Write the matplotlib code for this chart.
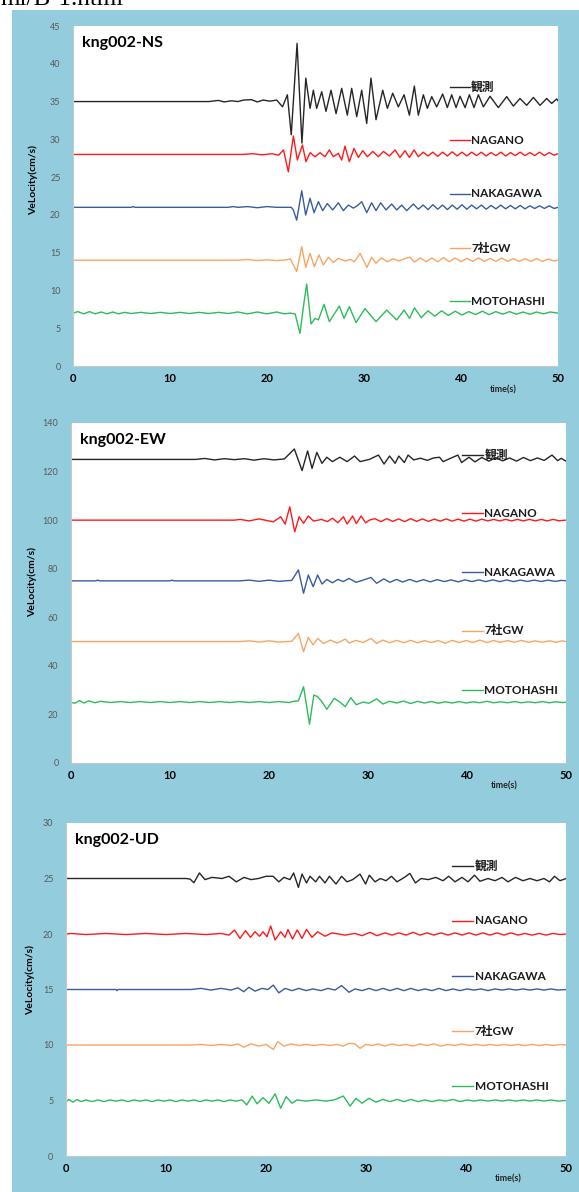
import numpy as np
import matplotlib
matplotlib.use("Agg")
import matplotlib.pyplot as plt
from matplotlib.patches import Rectangle

plt.rcParams['font.family'] = ['Lato', 'Noto Sans CJK JP', 'DejaVu Sans']

LABELS = ["観測", "NAGANO", "NAKAGAWA", "7社GW", "MOTOHASHI"]
COLORS = ["#262626", "#ff1a1a", "#3a5c9e", "#f7a565", "#2dbb5c"]

# ---- kng002-NS : (time s, velocity cm/s) picked from the record ----
NS_OBS = [(0, 35), (14.0, 35), (15.0, 35.15), (15.6, 34.95), (16.3, 35.1), (17.0, 35.0), (17.6, 35.2),
          (18.4, 35.25), (19.0, 34.95), (19.6, 35.2), (20.3, 35.05), (21.0, 35.2), (21.6, 34.3), (22.1, 35.9),
          (22.5, 30.6), (23.1, 42.7), (23.6, 29.5), (24.0, 38.1), (24.44, 34.1), (24.78, 36.5), (25.12, 34.1),
          (25.64, 36.3), (26.08, 33.7), (26.6, 36.5), (27.12, 33.4), (27.7, 36.75), (28.28, 33.2), (28.73, 36.75),
          (29.25, 33.0), (29.76, 36.5), (30.28, 32.1), (30.72, 38.1), (31.24, 32.6), (31.93, 36.5), (32.41, 34.1),
          (32.96, 36.1), (33.54, 34.3), (34.13, 35.9), (34.68, 33.2), (35.19, 37.05), (35.6, 33.2), (36.12, 35.9),
          (36.53, 34.1), (36.98, 35.65), (37.49, 34.3), (38.11, 36.0), (38.59, 34.2), (39.04, 35.9), (39.49, 34.2),
          (39.9, 35.7), (40.42, 34.2), (40.86, 35.9), (41.34, 34.2), (41.79, 35.9), (42.31, 34.3), (42.99, 35.7),
          (43.85, 34.2), (44.71, 35.65), (45.4, 34.4), (46.08, 35.4), (46.77, 34.5), (47.46, 35.55), (48.15, 34.5),
          (48.83, 35.4), (49.35, 34.75), (49.87, 35.35), (50.0, 35.1)]
NS_NAG = [(0, 28), (17.5, 28), (18.5, 28.1), (19.5, 27.95), (20.5, 28.1), (21.2, 27.9), (21.7, 28.6), (22.2, 25.7),
          (22.72, 30.44), (23.13, 27.26), (23.65, 29.25), (24.02, 27.04), (24.44, 28.23), (24.95, 27.7),
          (25.47, 28.23), (25.98, 27.7), (26.43, 28.6), (26.84, 27.7), (27.36, 28.15), (27.7, 27.26), (28.04, 29.1),
          (28.49, 27.04), (28.97, 28.8), (29.42, 27.6), (29.87, 28.5), (30.35, 27.7), (30.9, 28.4), (31.48, 27.7),
          (32.0, 28.4), (32.61, 27.8), (33.2, 28.6), (33.71, 27.6), (34.23, 28.5), (34.68, 27.6), (35.16, 28.6),
          (35.6, 27.7), (36.1, 28.3), (36.6, 27.8), (37.1, 28.3), (37.6, 27.75), (38.1, 28.3), (38.6, 27.8),
          (39.1, 28.35), (39.6, 27.8), (40.1, 28.3), (40.6, 27.8), (41.1, 28.3), (41.6, 27.85), (42.1, 28.3),
          (42.6, 27.8), (43.1, 28.25), (43.6, 27.85), (44.1, 28.3), (44.6, 27.8), (45.1, 28.25), (45.6, 27.85),
          (46.1, 28.3), (46.6, 27.85), (47.1, 28.25), (47.6, 27.85), (48.1, 28.3), (48.6, 27.85), (49.1, 28.25),
          (49.6, 27.9), (50, 28.1)]
NS_NAK = [(0, 21), (6, 21), (6.2, 21.1), (6.4, 21), (16, 21), (16.5, 21.1), (17, 21), (18, 21.1), (19, 20.95),
          (20, 21.1), (21, 21), (22.5, 21.0), (22.7, 20.7), (23.06, 19.3), (23.58, 23.2), (23.99, 19.98),
          (24.44, 22.2), (24.85, 20.3), (25.3, 21.75), (25.74, 20.56), (26.22, 21.5), (26.77, 20.65), (27.36, 21.6),
          (27.87, 20.56), (28.39, 21.3), (28.9, 20.9), (29.3, 21.2), (29.76, 21.75), (30.28, 20.3), (30.79, 21.6),
          (31.24, 20.56), (31.72, 21.6), (32.27, 20.65), (32.85, 21.44), (33.37, 20.65), (33.89, 21.3), (34.4, 20.56),
          (35.09, 21.44), (35.6, 20.75), (36.1, 21.3), (36.6, 20.7), (37.1, 21.35), (37.6, 20.75), (38.1, 21.3),
          (38.6, 20.7), (39.1, 21.3), (39.6, 20.75), (40.1, 21.35), (40.6, 20.75), (41.1, 21.3), (41.6, 20.8),
          (42.1, 21.3), (42.6, 20.75), (43.1, 21.25), (43.6, 20.8), (44.1, 21.3), (44.6, 20.8), (45.1, 21.25),
          (45.6, 20.8), (46.1, 21.25), (46.6, 20.8), (47.1, 21.2), (47.6, 20.85), (48.1, 21.2), (48.6, 20.85),
          (49.1, 21.2), (49.6, 20.85), (50, 21.0)]
NS_GW = [(0, 14), (17, 14), (18, 14.1), (19, 13.95), (20, 14.05), (21, 13.95), (22.0, 14.05), (22.4, 14.2),
         (23.06, 12.5), (23.58, 15.8), (23.99, 13.06), (24.44, 14.9), (24.88, 13.15), (25.36, 14.7), (25.81, 13.37),
         (26.33, 14.4), (26.84, 13.7), (27.36, 14.25), (28.04, 13.9), (28.6, 14.1), (29.0, 13.8), (29.6, 14.9),
         (30.3, 13.05), (30.8, 14.4), (31.24, 13.6), (31.8, 14.3), (32.4, 13.8), (33.0, 14.2), (33.6, 13.9),
         (34.2, 14.2), (34.75, 14.4), (35.2, 13.75), (35.8, 14.3), (36.4, 13.8), (37.0, 14.3), (37.6, 13.8),
         (38.2, 14.35), (38.8, 13.8), (39.4, 14.3), (40.0, 13.8), (40.6, 14.25), (41.2, 13.85), (41.8, 14.3),
         (42.4, 13.85), (43.0, 14.25), (43.6, 13.85), (44.2, 14.3), (44.8, 13.85), (45.4, 14.2), (46.0, 13.85),
         (46.6, 14.2), (47.2, 13.85), (47.8, 14.2), (48.4, 13.85), (49.0, 14.15), (49.6, 13.9), (50, 14.0)]
NS_MOTO = [(0, 7.0), (0.5, 7.2), (1.1, 6.9), (1.7, 7.2), (2.3, 6.9), (2.9, 7.15), (3.5, 6.9), (4.1, 7.15),
           (4.7, 6.9), (5.3, 7.1), (6, 6.95), (7, 7.1), (8, 6.95), (9, 7.1), (10, 6.95), (11, 7.1), (12, 6.95),
           (13, 7.1), (14, 6.95), (15, 7.1), (16, 6.95), (17, 7.15), (18, 6.9), (19, 7.15), (20, 6.9), (21, 7.15),
           (21.8, 6.9), (22.37, 7.0), (22.9, 6.9), (23.4, 4.33), (23.75, 7.8), (24.09, 10.85), (24.54, 5.57),
           (24.95, 6.3), (25.3, 6.1), (25.88, 8.16), (26.43, 5.87), (27.46, 7.94), (27.94, 6.3), (28.49, 7.85),
           (29.18, 5.74), (30.1, 7.6), (31.24, 5.87), (32.34, 7.4), (33.37, 6.1), (34.13, 7.4), (34.7, 6.3),
           (35.2, 7.7), (35.9, 6.4), (36.6, 7.3), (37.3, 6.6), (38.0, 7.3), (38.7, 6.7), (39.4, 7.25), (40.1, 6.75),
           (40.8, 7.2), (41.5, 6.8), (42.2, 7.25), (42.9, 6.8), (43.6, 7.2), (44.3, 6.85), (45, 7.2), (45.7, 6.85),
           (46.4, 7.15), (47.1, 6.85), (47.8, 7.15), (48.5, 6.9), (49.2, 7.15), (50, 7.0)]

# ---- kng002-EW ----
EW_OBS = [(0, 125), (12.6, 125), (13.5, 125.4), (14.5, 124.8), (15.5, 125.3), (16.5, 124.9), (17.5, 125.3),
          (18.5, 124.7), (19.5, 125.3), (20.5, 124.8), (21.55, 125.2), (22.56, 129.3), (23.34, 120.4), (23.9, 128.5),
          (24.35, 121.3), (24.83, 127.9), (25.35, 123.4), (25.84, 125.9), (26.4, 124.1), (27.15, 125.9),
          (27.89, 124.1), (28.64, 126.4), (29.2, 124.1), (30.13, 125.0), (31.06, 126.8), (31.62, 123.1),
          (32.18, 126.4), (32.74, 123.4), (33.11, 126.4), (33.67, 123.7), (34.05, 126.8), (34.61, 124.8),
          (35.3, 125.5), (36.0, 124.6), (36.6, 125.6), (37.22, 125.9), (37.59, 124.1), (38.3, 125.4), (39.08, 126.8),
          (39.45, 123.7), (40.2, 125.9), (40.8, 124.0), (41.5, 125.8), (42.2, 124.3), (42.9, 125.7), (43.6, 124.4),
          (44.3, 125.6), (45.0, 124.3), (45.7, 125.8), (46.4, 124.5), (47.1, 125.6), (47.8, 124.6), (48.59, 126.8),
          (49.15, 124.5), (49.52, 125.45), (49.97, 124.35)]
EW_NAG = [(0, 100), (16.5, 100), (17.07, 100.3), (18.0, 99.7), (19.0, 100.5), (20.43, 99.3), (21.18, 101.4),
          (21.63, 98.4), (22.1, 105.5), (22.6, 95.2), (23.04, 101.4), (23.49, 98.7), (23.97, 101.7), (24.5, 99.6),
          (25.3, 100.3), (25.9, 99.4), (26.4, 100.8), (26.96, 98.95), (27.52, 101.4), (27.89, 98.4), (28.45, 101.7),
          (28.82, 98.6), (29.31, 101.7), (29.76, 98.9), (30.13, 100.0), (30.7, 100.6), (31.3, 99.4), (31.9, 100.6),
          (32.5, 99.5), (33.1, 100.5), (33.7, 99.4), (34.3, 100.6), (34.9, 99.5), (35.5, 100.5), (36.1, 99.5),
          (36.7, 100.4), (37.3, 99.6), (37.9, 100.5), (38.5, 99.6), (39.1, 100.4), (39.7, 99.6), (40.3, 100.4),
          (40.9, 99.6), (41.5, 100.4), (42.1, 99.7), (42.7, 100.3), (43.3, 99.7), (43.9, 100.3), (44.5, 99.7),
          (45.1, 100.3), (45.7, 99.7), (46.3, 100.3), (46.9, 99.7), (47.5, 100.3), (48.1, 99.7), (48.7, 100.3),
          (49.3, 99.75), (50, 100.0)]
EW_NAK = [(0, 75), (2.5, 75), (2.7, 75.3), (2.9, 75), (10, 75), (10.2, 75.3), (10.4, 75), (17, 75), (18, 75.3),
          (19, 74.8), (20, 75.3), (21, 74.8), (22.3, 75.2), (22.97, 79.5), (23.49, 69.9), (23.97, 77.4),
          (24.46, 72.6), (24.91, 77.4), (25.35, 73.7), (25.84, 75.6), (26.4, 74.2), (26.96, 75.6), (27.5, 74.7),
          (28.08, 76.0), (28.8, 74.4), (29.5, 75.3), (30.3, 76.4), (30.87, 74.0), (31.6, 75.8), (32.2, 74.4),
          (32.9, 75.6), (33.5, 74.5), (34.2, 75.6), (34.9, 74.6), (35.6, 75.5), (36.3, 74.6), (37.0, 75.5),
          (37.7, 74.7), (38.4, 75.4), (39.1, 74.6), (39.8, 75.4), (40.5, 74.7), (41.2, 75.4), (41.9, 74.7),
          (42.6, 75.4), (43.3, 74.7), (44.0, 75.35), (44.7, 74.7), (45.4, 75.3), (46.1, 74.75), (46.8, 75.3),
          (47.5, 74.75), (48.2, 75.3), (48.9, 74.8), (49.6, 75.2), (50, 75)]
EW_GW = [(0, 50), (17, 50), (18, 50.3), (19, 49.8), (20, 50.3), (21, 49.8), (22.3, 50.1), (22.97, 53.4),
         (23.49, 45.8), (23.97, 51.7), (24.46, 48.6), (24.91, 51.3), (25.5, 49.2), (26.2, 50.6), (26.9, 49.4),
         (27.7, 51.0), (28.1, 49.4), (28.8, 50.5), (29.5, 49.6), (30.3, 51.3), (30.87, 49.2), (31.5, 50.6),
         (32.2, 49.5), (32.9, 50.5), (33.6, 49.5), (34.3, 50.5), (35.0, 49.5), (35.7, 50.4), (36.4, 49.6),
         (37.1, 50.4), (37.8, 49.3), (38.5, 50.5), (39.2, 49.6), (39.9, 50.4), (40.6, 49.6), (41.3, 50.6),
         (42.0, 49.6), (42.7, 50.4), (43.4, 49.7), (44.1, 50.4), (44.8, 49.7), (45.5, 50.5), (46.2, 49.7),
         (46.9, 50.3), (47.6, 49.7), (48.3, 50.3), (49.0, 49.7), (49.6, 50.3), (50, 50)]
EW_MOTO = [(0, 25), (0.4, 24.6), (0.85, 25.7), (1.3, 24.7), (1.8, 25.6), (2.4, 24.8), (3.0, 25.4), (4, 24.9),
           (5, 25.3), (6, 24.9), (7, 25.3), (8, 24.9), (9, 25.3), (10, 24.9), (11, 25.3), (12, 24.9), (13, 25.3),
           (14, 24.9), (15, 25.3), (16, 24.9), (17, 25.3), (18, 24.9), (19, 25.3), (20, 24.9), (21, 25.3),
           (22.0, 24.9), (22.5, 25.4), (22.97, 25.6), (23.49, 31.4), (24.09, 16.0), (24.53, 28.0), (24.91, 27.3),
           (25.35, 25.2), (25.84, 22.1), (26.59, 26.6), (27.1, 25.3), (27.7, 23.2), (28.26, 26.9), (28.82, 24.0),
           (29.5, 25.1), (30.1, 24.6), (30.87, 26.4), (31.5, 24.3), (32.2, 25.4), (32.9, 24.7), (33.6, 25.5),
           (34.3, 24.5), (35.0, 25.4), (35.7, 24.7), (36.4, 25.3), (37.1, 24.6), (37.8, 25.2), (38.5, 24.7),
           (39.2, 25.3), (39.9, 24.7), (40.6, 25.2), (41.3, 24.8), (42.0, 25.4), (42.7, 24.8), (43.4, 25.2),
           (44.1, 24.8), (44.8, 25.3), (45.5, 24.8), (46.2, 25.2), (46.9, 24.8), (47.6, 25.3), (48.3, 24.8),
           (49.0, 25.2), (49.6, 24.9), (50, 25)]

# ---- kng002-UD ----
UD_OBS = [(0, 25), (11.3, 25), (12.0, 25.0), (12.4, 24.95), (12.79, 24.62), (13.34, 25.5), (13.9, 24.9),
          (14.6, 25.1), (15.6, 25.0), (16.3, 25.2), (17.03, 24.7), (17.8, 25.1), (18.5, 24.9), (19.25, 25.0),
          (20.0, 25.2), (20.7, 25.2), (21.28, 24.7), (21.8, 25.1), (22.4, 24.9), (22.76, 25.5), (23.24, 24.2),
          (23.6, 25.4), (24.05, 24.6), (24.4, 25.2), (24.97, 24.7), (25.35, 25.2), (25.9, 24.6), (26.34, 25.2),
          (27.0, 24.5), (27.56, 25.2), (28.1, 24.7), (28.67, 24.9), (29.4, 25.4), (29.96, 24.5), (30.33, 25.3),
          (30.9, 24.7), (31.44, 25.0), (32.0, 24.8), (32.55, 25.2), (33.1, 24.7), (33.84, 25.1), (34.39, 25.46),
          (34.94, 24.6), (35.5, 25.0), (36.24, 24.9), (36.97, 25.1), (37.7, 24.8), (38.27, 25.2), (38.9, 24.7),
          (39.6, 25.1), (40.2, 24.7), (40.85, 25.3), (41.4, 24.75), (42.2, 25.0), (42.9, 24.8), (43.6, 25.1),
          (44.2, 24.7), (44.95, 25.1), (45.7, 24.8), (46.4, 25.0), (47.1, 24.8), (47.8, 25.0), (48.35, 24.7),
          (48.85, 25.2), (49.4, 24.8), (50, 25.0)]
UD_NAG = [(0, 20), (0.5, 20.05), (2, 19.95), (4, 20.05), (6, 19.95), (8, 20.05), (10, 19.95), (12, 20.05),
          (14, 19.95), (15.5, 20.05), (16.3, 19.9), (16.85, 20.36), (17.4, 19.6), (17.95, 20.3), (18.45, 19.7),
          (18.9, 20.2), (19.35, 19.8), (19.7, 20.2), (20.1, 19.75), (20.47, 20.72), (20.91, 19.46), (21.47, 20.2),
          (21.9, 19.7), (22.2, 20.4), (22.65, 19.55), (23.13, 20.37), (23.6, 19.6), (24.05, 20.42), (24.6, 19.7),
          (25.16, 20.2), (25.9, 19.8), (26.6, 20.1), (27.9, 19.9), (28.9, 20.05), (29.6, 19.85), (30.4, 20.15),
          (31.1, 19.85), (31.9, 20.1), (32.6, 19.9), (33.3, 20.1), (34.0, 19.9), (34.7, 20.15), (35.4, 19.9),
          (36.1, 20.1), (36.8, 19.9), (37.5, 20.1), (38.2, 19.9), (38.9, 20.1), (39.6, 19.9), (40.3, 20.1),
          (41.0, 19.9), (41.7, 20.1), (42.4, 19.9), (43.1, 20.1), (43.8, 19.9), (44.5, 20.1), (45.2, 19.9),
          (45.9, 20.05), (46.6, 19.9), (47.3, 20.05), (48.0, 19.9), (48.7, 20.05), (49.4, 19.95), (50, 20)]
UD_NAK = [(0, 15), (5, 15), (5.1, 14.9), (5.2, 15), (12.5, 15), (13.5, 15.1), (14.5, 14.95), (15.5, 15.1),
          (16.5, 14.95), (17.2, 15.15), (17.77, 14.8), (18.3, 15.2), (18.9, 14.85), (19.6, 15.1), (20.2, 15.0),
          (20.73, 15.4), (21.28, 14.7), (21.9, 15.1), (22.6, 14.9), (23.3, 15.1), (24.0, 14.9), (24.7, 15.05),
          (25.5, 14.9), (26.2, 15.1), (26.9, 14.95), (27.56, 15.35), (28.3, 14.75), (28.9, 15.05), (29.6, 14.9),
          (30.3, 15.1), (31.0, 14.9), (31.7, 15.1), (32.4, 14.9), (33.1, 15.1), (33.8, 14.9), (34.5, 15.1),
          (35.2, 14.9), (35.9, 15.05), (36.6, 14.9), (37.3, 15.1), (38.0, 14.9), (38.7, 15.05), (39.4, 14.9),
          (40.1, 15.05), (40.8, 14.95), (41.5, 15.05), (42.2, 14.9), (42.9, 15.05), (43.6, 14.95), (44.3, 15.05),
          (45.0, 14.95), (45.7, 15.05), (46.4, 14.95), (47.1, 15.05), (47.8, 14.95), (48.5, 15.05), (49.2, 14.95),
          (50, 15)]
UD_GW = [(0, 10), (12.5, 10), (13.5, 10.05), (14.5, 9.95), (15.5, 10.05), (16.5, 9.95), (17.2, 10.1),
         (17.77, 9.8), (18.5, 10.1), (19.3, 9.9), (20.0, 10.05), (20.73, 9.6), (21.17, 10.3), (21.8, 9.9),
         (22.5, 10.1), (23.3, 9.95), (24.0, 10.05), (24.8, 9.95), (25.6, 10.05), (26.4, 9.95), (27.1, 10.05),
         (27.7, 9.9), (28.3, 10.15), (28.9, 10.1), (29.4, 9.7), (29.96, 10.05), (30.6, 9.95), (31.2, 10.1),
         (31.9, 9.9), (32.6, 10.1), (33.3, 9.95), (34.0, 10.05), (34.7, 9.9), (35.4, 10.1), (36.1, 9.95),
         (36.8, 10.1), (37.5, 9.9), (38.2, 10.05), (38.9, 9.95), (39.6, 10.1), (40.3, 9.95), (41.0, 10.05),
         (41.7, 9.95), (42.4, 10.05), (43.1, 9.95), (43.8, 10.05), (44.5, 9.95), (45.2, 10.05), (45.9, 9.95),
         (46.6, 10.05), (47.3, 9.95), (48.0, 10.05), (48.7, 9.95), (49.4, 10.05), (50, 10)]
UD_MOTO = [(0, 4.9), (0.3, 5.1), (0.7, 4.85), (1.1, 5.1), (1.5, 4.9), (2.0, 5.05), (2.6, 4.9), (3.2, 5.05),
           (3.8, 4.9), (4.4, 5.05), (5.0, 4.95), (5.6, 5.05), (6.2, 4.9), (6.8, 5.05), (7.4, 4.95), (8.0, 5.05),
           (8.6, 4.9), (9.2, 5.05), (9.8, 4.95), (10.4, 5.05), (11.0, 4.9), (11.6, 5.05), (12.2, 4.95), (12.8, 5.05),
           (13.4, 4.9), (14.0, 5.05), (14.6, 4.95), (15.2, 5.05), (15.8, 4.9), (16.4, 5.05), (17.0, 4.95),
           (17.6, 5.05), (18.07, 4.6), (18.62, 5.4), (19.1, 4.7), (19.7, 5.25), (20.3, 4.75), (20.91, 5.6),
           (21.47, 4.3), (22.02, 5.35), (22.6, 4.75), (23.1, 5.05), (24.0, 4.95), (25, 5.05), (26.0, 4.95),
           (26.8, 5.05), (27.74, 5.4), (28.41, 4.5), (29.0, 5.2), (29.6, 4.75), (30.3, 5.2), (31.0, 4.85),
           (31.7, 5.1), (32.4, 4.9), (33.1, 5.1), (33.8, 4.9), (34.5, 5.1), (35.2, 4.9), (35.9, 5.05), (36.6, 4.9),
           (37.3, 5.05), (38.0, 4.95), (38.7, 5.1), (39.4, 4.9), (40.1, 5.05), (40.8, 4.95), (41.5, 5.05),
           (42.2, 4.95), (42.9, 5.05), (43.6, 4.95), (44.3, 5.05), (45.0, 4.95), (45.7, 5.05), (46.4, 4.95),
           (47.1, 5.05), (47.8, 4.95), (48.5, 5.05), (49.2, 4.95), (50, 5)]

XTICKS = [0, 10, 20, 30, 40, 50]
NS_YTICKS = [0, 5, 10, 15, 20, 25, 30, 35, 40, 45]
EW_YTICKS = [0, 20, 40, 60, 80, 100, 120, 140]
UD_YTICKS = [0, 5, 10, 15, 20, 25, 30]

W, H = 579, 1192
fig = plt.figure(figsize=(W / 100, H / 100), dpi=100)
fig.patch.set_facecolor("white")
fig.patches.append(Rectangle((12 / W, 0), 1, 1 - 10 / H, transform=fig.transFigure,
                             facecolor="#93cddd", edgecolor="none", zorder=-10))
# page address, cut by the top edge as in the screenshot
fig.text(0.0, 1 - 5 / H, "ml/B-1.html", family="Liberation Serif", fontsize=18,
         va="baseline", ha="left", color="black")

panels = [
    dict(title="kng002-NS", traces=[NS_OBS, NS_NAG, NS_NAK, NS_GW, NS_MOTO], yticks=NS_YTICKS,
         box=(73, 26, 485, 340), leg_x=(38.9, 40.9), leg_y=[36.9, 29.9, 22.8, 15.6, 8.6],
         ylab=(33, 180), xlab=(503, 390)),
    dict(title="kng002-EW", traces=[EW_OBS, EW_NAG, EW_NAK, EW_GW, EW_MOTO], yticks=EW_YTICKS,
         box=(71, 423, 495, 340), leg_x=(39.5, 41.6), leg_y=[126.8, 102.9, 78.6, 54.5, 30.0],
         ylab=(32, 582), xlab=(504, 786)),
    dict(title="kng002-UD", traces=[UD_OBS, UD_NAG, UD_NAK, UD_GW, UD_MOTO], yticks=UD_YTICKS,
         box=(66, 823, 500, 333), leg_x=(38.6, 40.7), leg_y=[26.15, 21.2, 16.2, 11.26, 6.3],
         ylab=(30, 980), xlab=(508, 1179)),
]

for p in panels:
    x0, top, w, h = p["box"]
    ax = fig.add_axes([x0 / W, 1 - (top + h) / H, w / W, h / H])
    ax.set_facecolor("white")
    for data, color in zip(p["traces"], COLORS):
        t, v = np.array(data).T
        ax.plot(t, v, color=color, lw=1.0, solid_joinstyle="round")
    for y, lab, color in zip(p["leg_y"], LABELS, COLORS):
        ax.plot(p["leg_x"], [y, y], color=color, lw=1.0)
        ax.text(p["leg_x"][1] + 0.15, y, lab, fontsize=8.5, fontweight="bold", va="center", ha="left",
                color="#1a1a1a")
    ax.set_xlim(0, 50)
    ax.set_ylim(p["yticks"][0], p["yticks"][-1])
    ax.set_xticks(XTICKS)
    ax.set_yticks(p["yticks"])
    ax.tick_params(axis="x", length=0, pad=5, labelsize=8, labelcolor="black")
    ax.tick_params(axis="y", length=0, pad=9, labelsize=6.5, labelcolor="#595959")
    for lbl in ax.get_xticklabels():
        lbl.set_fontweight("bold")
    for s in ["top", "right"]:
        ax.spines[s].set_visible(False)
    for s in ["left", "bottom"]:
        ax.spines[s].set_color("#c8c8c8")
        ax.spines[s].set_linewidth(0.8)
    ax.text(0.018, 0.95, p["title"], transform=ax.transAxes, fontsize=11.5, fontweight="bold",
            va="center", ha="left", color="black")
    fig.text(p["ylab"][0] / W, 1 - p["ylab"][1] / H, "VeLocity(cm/s)", rotation=90, fontsize=7.5,
             fontweight="bold", va="center", ha="center")
    fig.text(p["xlab"][0] / W, 1 - p["xlab"][1] / H, "time(s)", fontsize=6.5, fontweight="bold",
             va="center", ha="center", color="#262626")

fig.savefig("out.png", dpi=100)
